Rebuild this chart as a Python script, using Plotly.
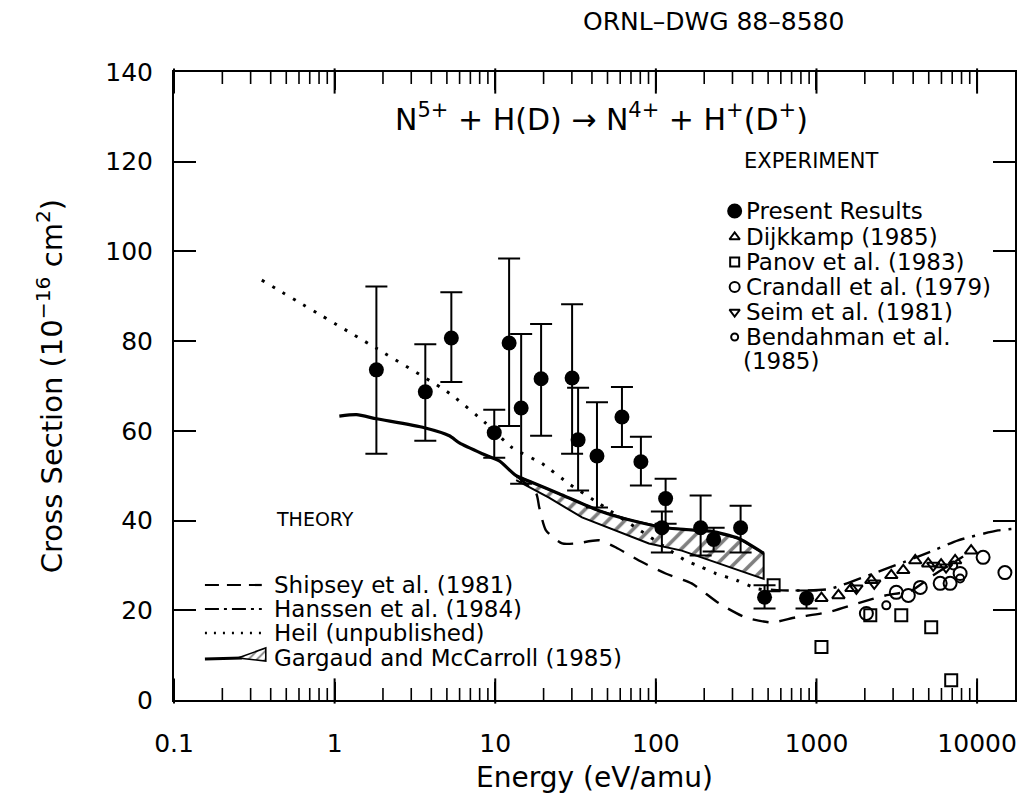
import plotly.graph_objects as go

# ---------------- data ----------------
# Present results: energy (eV/amu), cross section (1e-16 cm^2), error-bar limits
pr_energy = [1.82, 3.67, 5.33, 9.86, 12.2, 14.5, 19.3, 30.1, 32.8, 43.0, 61.5,
             80.7, 115, 109, 190, 229, 337, 475, 867]
pr_sigma = [73.6, 68.7, 80.7, 59.6, 79.6, 65.1, 71.6, 71.8, 58.0, 54.4, 63.1,
            53.1, 44.9, 38.4, 38.4, 35.8, 38.4, 22.9, 22.7]
pr_upper = [92.2, 79.3, 90.9, 64.7, 98.4, 81.6, 83.8, 88.2, 69.6, 66.4, 69.8,
            58.7, 49.3, 42.0, 45.6, 38.4, 43.3, 25.6, 24.4]
pr_lower = [54.9, 57.8, 70.9, 54.0, 61.1, 48.2, 58.9, 54.9, 46.7, 42.9, 56.4,
            47.8, 39.3, 32.9, 32.2, 33.1, 32.9, 20.4, 20.4]

dijk_energy = [1074, 1370, 1650, 2196, 2923, 3470, 4120, 4960, 5970, 7300, 9180]
dijk_sigma = [22.7, 23.3, 24.9, 26.7, 27.8, 28.9, 31.1, 30.4, 30.2, 31.1, 33.3]

panov_energy = [541, 1074, 2163, 3373, 5180, 6900]
panov_sigma = [25.6, 11.8, 18.9, 18.9, 16.2, 4.4]

crandall_energy = [2045, 3140, 3730, 4430, 5890, 6790, 7840, 10900, 14900]
crandall_sigma = [19.3, 24.0, 23.3, 25.1, 26.0, 26.0, 28.2, 31.8, 28.4]

seim_energy = [1772, 2290, 5330, 6410]
seim_sigma = [24.9, 26.0, 30.0, 29.6]

bend_energy = [2720, 7100, 7840]
bend_sigma = [21.1, 30.0, 27.1]

# Theory curves
gm_line_energy = [1.07, 1.37, 1.82, 3.62, 5.18, 5.98, 8.3, 10.6, 13.5]
gm_line_sigma = [63.3, 63.6, 62.7, 60.7, 58.9, 57.3, 54.9, 53.3, 50.0]
gm_upper_energy = [13.5, 17, 25, 44.3, 71, 115, 185, 223, 328, 469]
gm_upper_sigma = [50.0, 48.5, 46.0, 42.2, 40.0, 38.4, 37.8, 37.6, 36.0, 32.7]
gm_lower_energy = [13.5, 21.6, 34.7, 56.5, 90.5, 145, 223, 362, 469]
gm_lower_sigma = [49.0, 45.1, 40.7, 37.8, 34.9, 33.3, 31.1, 28.4, 27.0]

shipsey_energy = [13.5, 18, 18.8, 20.7, 26.1, 31.8, 44.3, 56.5, 78.4, 115, 167,
                  246, 362, 525, 741, 1188, 1825, 2685, 3890, 5330, 8190]
shipsey_sigma = [50.0, 46.0, 42.9, 37.8, 34.9, 34.9, 35.6, 34.0, 31.1, 28.2, 26.0,
                 21.6, 18.4, 17.3, 18.4, 19.6, 21.6, 23.3, 24.4, 27.8, 32.0]

hanssen_energy = [520, 670, 1188, 2105, 3470, 5330, 7620, 13500, 17200]
hanssen_sigma = [24.6, 24.4, 24.7, 27.8, 30.7, 33.3, 35.6, 37.8, 38.2]

heil_energy = [0.352, 1.82, 5.18, 8.79, 12.8, 19.6, 28.8, 44.3, 80, 115, 153,
               193, 236, 318, 418, 503]
heil_sigma = [93.6, 78.4, 68.4, 61.6, 56.2, 52.7, 48.2, 43.8, 37.8, 34.0, 31.1,
              29.6, 28.2, 26.7, 24.9, 24.4]

y_tick_vals = [0, 20, 40, 60, 80, 100, 120, 140]
x_major_vals = [0.1, 1, 10, 100, 1000, 10000]
x_minor_vals = [m * 10.0 ** e for e in range(-1, 5) for m in range(2, 10)
                if m * 10.0 ** e < 17000]

exp_labels = ["Present Results", "Dijkkamp (1985)", "Panov et al. (1983)",
              "Crandall et al. (1979)", "Seim et al. (1981)", "Bendahman et al."]
theory_labels = ["Shipsey et al. (1981)", "Hanssen et al. (1984)",
                 "Heil (unpublished)", "Gargaud and McCarroll (1985)"]

# ---------------- figure ----------------
W, H = 1025, 801
L, R, T, B = 174, 1017, 72, 700
X_LOG_RANGE = [-1, 4.236]
Y_RANGE = [0, 140]
FONT = "DejaVu Sans"
INK = "black"


def px(x):
    return (x - L) / (R - L)


def py(y):
    return (B - y) / (B - T)


def ex(x):
    """Screen column -> energy on the log axis (for legend glyphs)."""
    return 10 ** (X_LOG_RANGE[0] + px(x) * (X_LOG_RANGE[1] - X_LOG_RANGE[0]))


def sy(y):
    """Screen row -> cross-section value (for legend glyphs)."""
    return Y_RANGE[0] + py(y) * (Y_RANGE[1] - Y_RANGE[0])


fig = go.Figure()

# Gargaud & McCarroll hatched band
band_x = gm_upper_energy + gm_lower_energy[::-1]
band_y = gm_upper_sigma + gm_lower_sigma[::-1]
fig.add_trace(go.Scatter(
    x=band_x, y=band_y, mode="lines", fill="toself",
    fillcolor="rgba(0,0,0,0)",
    fillpattern=dict(shape="/", fgcolor=INK, bgcolor="white", size=12, solidity=0.3),
    line=dict(color=INK, width=2), hoverinfo="skip"))
fig.add_trace(go.Scatter(
    x=gm_line_energy + gm_upper_energy[1:], y=gm_line_sigma + gm_upper_sigma[1:],
    mode="lines", line=dict(color=INK, width=3.2, shape="spline", smoothing=0.6)))

fig.add_trace(go.Scatter(
    x=shipsey_energy, y=shipsey_sigma, mode="lines",
    line=dict(color=INK, width=2.4, dash="16px,11px", shape="spline", smoothing=0.6)))
fig.add_trace(go.Scatter(
    x=hanssen_energy, y=hanssen_sigma, mode="lines",
    line=dict(color=INK, width=2.4, dash="18px,8px,3px,8px", shape="spline", smoothing=0.6)))
fig.add_trace(go.Scatter(
    x=heil_energy, y=heil_sigma, mode="lines",
    line=dict(color=INK, width=3, dash="3px,9px", shape="spline", smoothing=0.5)))

# Experimental points
open_line = dict(color=INK, width=2)
fig.add_trace(go.Scatter(x=panov_energy, y=panov_sigma, mode="markers",
                         marker=dict(symbol="square-open", size=12, line=open_line, color=INK)))
fig.add_trace(go.Scatter(x=crandall_energy, y=crandall_sigma, mode="markers",
                         marker=dict(symbol="circle-open", size=13, line=open_line, color=INK)))
fig.add_trace(go.Scatter(x=dijk_energy, y=dijk_sigma, mode="markers",
                         marker=dict(symbol="triangle-up-open", size=11, line=open_line, color=INK)))
fig.add_trace(go.Scatter(x=seim_energy, y=seim_sigma, mode="markers",
                         marker=dict(symbol="triangle-down-open", size=11, line=open_line, color=INK)))
fig.add_trace(go.Scatter(x=bend_energy, y=bend_sigma, mode="markers",
                         marker=dict(symbol="circle-open", size=8, line=open_line, color=INK)))

err_plus = [u - s for u, s in zip(pr_upper, pr_sigma)]
err_minus = [s - l for s, l in zip(pr_sigma, pr_lower)]
fig.add_trace(go.Scatter(
    x=pr_energy, y=pr_sigma, mode="markers",
    marker=dict(symbol="circle", size=15, color=INK),
    error_y=dict(type="data", array=err_plus, arrayminus=err_minus,
                 color=INK, thickness=2, width=11, symmetric=False)))

# Log-axis tick marks on the bottom and top frame edges, drawn as short
# vertical-line markers centred half a tick length inside the frame
unit_per_px = (Y_RANGE[1] - Y_RANGE[0]) / (B - T)
for vals, length, width in ((x_minor_vals, 10, 1.6), (x_major_vals, 18, 2.0)):
    half = 0.5 * length * unit_per_px
    n = len(vals)
    fig.add_trace(go.Scatter(
        x=vals + vals, y=[Y_RANGE[0] + half] * n + [Y_RANGE[1] - half] * n,
        mode="markers", hoverinfo="skip", cliponaxis=False,
        marker=dict(symbol="line-ns", size=length, color=INK,
                    line=dict(color=INK, width=width))))

# ---------------- legends ----------------
exp_rows = [211, 237, 262, 287, 312, 337]
exp_symbols = ["circle", "triangle-up-open", "square-open", "circle-open",
               "triangle-down-open", "circle-open"]
exp_sizes = [13, 9, 9, 10, 9, 7]
for yy, sym, sz in zip(exp_rows, exp_symbols, exp_sizes):
    fig.add_trace(go.Scatter(x=[ex(736)], y=[sy(yy)], mode="markers", hoverinfo="skip",
                             marker=dict(symbol=sym, size=sz, color=INK,
                                         line=dict(color=INK, width=2))))

th_rows = [585, 609, 633, 658]
sample_x = [ex(205), ex(262)]
for yy, dash, wd in ((585, "14px,8px", 2.2), (609, "14px,5px,3px,5px", 2.2),
                     (633, "2px,7px", 2.4)):
    fig.add_trace(go.Scatter(x=sample_x, y=[sy(yy)] * 2, mode="lines", hoverinfo="skip",
                             line=dict(color=INK, width=wd, dash=dash)))
fig.add_trace(go.Scatter(x=[ex(205), ex(242)], y=[sy(659), sy(658)], mode="lines",
                         hoverinfo="skip", line=dict(color=INK, width=3.2)))
fig.add_trace(go.Scatter(x=[ex(238), ex(266), ex(266), ex(238)],
                         y=[sy(658), sy(648), sy(661), sy(658)],
                         mode="lines", fill="toself", fillcolor="rgba(0,0,0,0)",
                         fillpattern=dict(shape="/", fgcolor=INK, bgcolor="white",
                                          size=6, solidity=0.3),
                         hoverinfo="skip", line=dict(color=INK, width=1.6)))

ann = []
lab_font = dict(family=FONT, size=23, color=INK)
for yy, txt in zip(exp_rows, exp_labels):
    ann.append(dict(x=px(745), y=py(yy), text=txt, xanchor="left", yanchor="middle",
                    font=lab_font))
ann.append(dict(x=px(742), y=py(361), text="(1985)", xanchor="left", yanchor="middle",
                font=lab_font))
for yy, txt in zip(th_rows, theory_labels):
    ann.append(dict(x=px(272), y=py(yy), text=txt, xanchor="left", yanchor="middle",
                    font=lab_font))
ann.append(dict(x=px(743), y=py(161), text="EXPERIMENT", xanchor="left", yanchor="middle",
                font=dict(family=FONT, size=21, color=INK)))
ann.append(dict(x=px(274), y=py(519), text="THEORY", xanchor="left", yanchor="middle",
                font=dict(family=FONT, size=19, color=INK)))
ann.append(dict(x=px(603), y=py(117),
                text="N<sup>5+</sup> + H(D) \u2192 N<sup>4+</sup> + H<sup>+</sup>(D<sup>+</sup>)",
                xanchor="center", yanchor="middle",
                font=dict(family=FONT, size=30, color=INK)))
ann.append(dict(x=px(582), y=py(22), text="ORNL\u2013DWG 88\u20138580", xanchor="left",
                yanchor="middle", font=dict(family=FONT, size=25, color=INK)))
for a in ann:
    a.update(xref="paper", yref="paper", showarrow=False)

axis_common = dict(showline=True, linewidth=2, linecolor=INK, mirror="ticks",
                   showgrid=False, zeroline=False, tickcolor=INK,
                   tickwidth=2, tickfont=dict(family=FONT, size=25, color=INK))

fig.update_layout(
    width=W, height=H, autosize=False,
    margin=dict(l=L, r=W - R, t=T, b=H - B),
    paper_bgcolor="white", plot_bgcolor="white",
    showlegend=False,
    font=dict(family=FONT, color=INK),
    annotations=ann,
    xaxis=dict(type="log", range=X_LOG_RANGE, tickmode="array", tickvals=x_major_vals,
               ticktext=["0.1", "1", "10", "100", "1000", "10000"],
               ticks="inside", ticklen=18, ticklabelstandoff=20,
               title=dict(text="Energy (eV/amu)", font=dict(family=FONT, size=28, color=INK),
                          standoff=10),
               **axis_common),
    yaxis=dict(range=Y_RANGE, tickmode="array", tickvals=y_tick_vals, ticks="inside",
               ticklen=22, ticklabelstandoff=14,
               title=dict(text="Cross Section (10<sup>\u221216</sup> cm<sup>2</sup>)",
                          font=dict(family=FONT, size=29, color=INK), standoff=34),
               **axis_common),
)

fig.write_html("out.html")
